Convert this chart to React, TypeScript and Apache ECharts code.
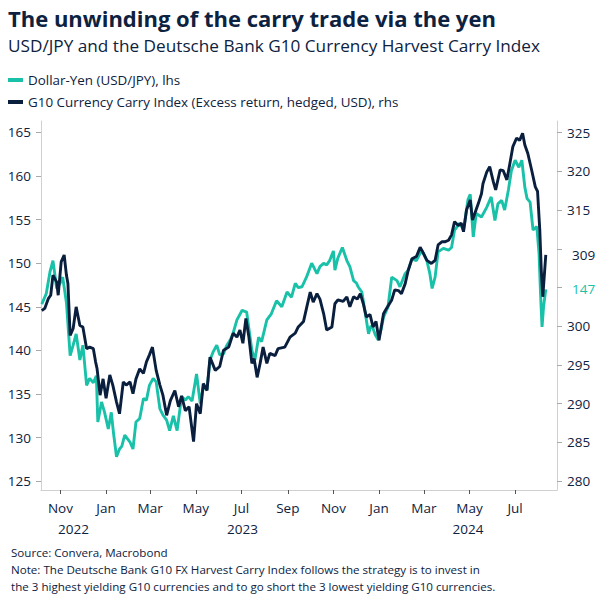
import React, { useEffect, useRef } from 'react';
import * as echarts from 'echarts';

// Dollar-Yen (USD/JPY), left axis
const usdJpyDates = [
  '2022-10-07', '2022-10-13', '2022-10-18', '2022-10-22', '2022-10-27', '2022-11-01', '2022-11-04', '2022-11-09', '2022-11-14', '2022-11-18',
  '2022-11-22', '2022-11-27', '2022-12-01', '2022-12-06', '2022-12-10', '2022-12-15', '2022-12-19', '2022-12-21', '2022-12-26', '2022-12-30',
  '2023-01-04', '2023-01-08', '2023-01-11', '2023-01-15', '2023-01-19', '2023-01-22', '2023-01-26', '2023-02-02', '2023-02-06', '2023-02-10',
  '2023-02-15', '2023-02-20', '2023-02-24', '2023-02-28', '2023-03-05', '2023-03-09', '2023-03-14', '2023-03-18', '2023-03-23', '2023-03-27',
  '2023-04-01', '2023-04-06', '2023-04-12', '2023-04-17', '2023-04-21', '2023-04-26', '2023-05-02', '2023-05-07', '2023-05-11', '2023-05-16',
  '2023-05-20', '2023-05-24', '2023-05-29', '2023-06-02', '2023-06-07', '2023-06-11', '2023-06-16', '2023-06-20', '2023-06-25', '2023-07-02',
  '2023-07-08', '2023-07-11', '2023-07-15', '2023-07-19', '2023-07-24', '2023-07-28', '2023-08-04', '2023-08-10', '2023-08-17', '2023-08-24',
  '2023-08-31', '2023-09-06', '2023-09-11', '2023-09-15', '2023-09-20', '2023-09-26', '2023-10-03', '2023-10-10', '2023-10-14', '2023-10-19',
  '2023-10-23', '2023-10-27', '2023-11-01', '2023-11-03', '2023-11-07', '2023-11-13', '2023-11-19', '2023-11-23', '2023-11-28', '2023-12-02',
  '2023-12-04', '2023-12-09', '2023-12-13', '2023-12-18', '2023-12-21', '2023-12-24', '2023-12-27', '2023-12-31', '2024-01-04', '2024-01-07',
  '2024-01-13', '2024-01-18', '2024-01-25', '2024-01-29', '2024-02-05', '2024-02-09', '2024-02-14', '2024-02-20', '2024-02-27', '2024-03-05',
  '2024-03-09', '2024-03-12', '2024-03-16', '2024-03-20', '2024-03-27', '2024-04-03', '2024-04-07', '2024-04-11', '2024-04-18', '2024-04-23',
  '2024-04-29', '2024-05-02', '2024-05-06', '2024-05-10', '2024-05-17', '2024-05-24', '2024-05-30', '2024-06-04', '2024-06-08', '2024-06-13',
  '2024-06-17', '2024-06-22', '2024-06-26', '2024-07-01', '2024-07-06', '2024-07-10', '2024-07-14', '2024-07-17', '2024-07-21', '2024-07-25',
  '2024-07-30', '2024-08-02', '2024-08-04', '2024-08-06', '2024-08-08', '2024-08-11',
];
const usdJpy = [
  145.3, 146.5, 149.0, 150.3, 147.1, 147.8, 148.4, 145.5, 139.4, 140.6,
  141.9, 138.9, 140.6, 136.0, 136.8, 136.3, 137.1, 131.8, 134.1, 132.9,
  131.0, 132.9, 130.5, 127.8, 128.7, 129.0, 130.3, 129.5, 128.7, 131.8,
  132.2, 134.5, 134.3, 136.0, 136.8, 136.4, 133.3, 132.6, 132.0, 130.8,
  132.5, 130.8, 134.7, 134.3, 134.7, 134.2, 137.3, 133.9, 135.8, 135.5,
  138.9, 139.8, 140.6, 139.5, 139.6, 140.5, 141.2, 142.0, 143.5, 144.6,
  144.4, 142.5, 140.0, 138.9, 141.5, 141.0, 143.5, 144.2, 145.7, 145.0,
  146.7, 146.1, 147.7, 147.2, 147.3, 148.4, 150.0, 148.8, 149.6, 150.0,
  149.8, 150.3, 151.4, 149.2, 150.6, 151.8, 150.3, 149.6, 148.0, 147.7,
  147.3, 146.7, 144.6, 141.9, 142.8, 142.5, 141.8, 141.2, 142.5, 143.8,
  145.0, 148.4, 148.0, 147.3, 148.8, 149.2, 150.5, 150.3, 151.5, 150.3,
  148.8, 147.1, 148.4, 151.3, 151.7, 151.5, 151.8, 153.8, 154.6, 153.8,
  157.3, 157.9, 153.0, 155.7, 155.3, 156.4, 157.6, 154.9, 156.8, 157.2,
  156.1, 158.4, 160.6, 161.8, 161.0, 161.8, 158.7, 157.4, 157.0, 153.8,
  154.2, 151.1, 146.5, 142.7, 145.0, 147.0,
];

// G10 Currency Carry Index, right axis
const carryDates = [
  '2022-10-07', '2022-10-11', '2022-10-16', '2022-10-19', '2022-10-22', '2022-10-27', '2022-10-29', '2022-11-02', '2022-11-06', '2022-11-09',
  '2022-11-11', '2022-11-14', '2022-11-18', '2022-11-22', '2022-11-27', '2022-12-01', '2022-12-06', '2022-12-10', '2022-12-15', '2022-12-18',
  '2022-12-20', '2022-12-24', '2022-12-28', '2023-01-01', '2023-01-06', '2023-01-10', '2023-01-15', '2023-01-19', '2023-01-24', '2023-01-28',
  '2023-02-02', '2023-02-06', '2023-02-10', '2023-02-15', '2023-02-20', '2023-02-24', '2023-02-28', '2023-03-04', '2023-03-09', '2023-03-14',
  '2023-03-18', '2023-03-23', '2023-03-28', '2023-04-03', '2023-04-08', '2023-04-12', '2023-04-17', '2023-04-22', '2023-04-28', '2023-05-02',
  '2023-05-07', '2023-05-11', '2023-05-16', '2023-05-20', '2023-05-27', '2023-06-02', '2023-06-07', '2023-06-14', '2023-06-20', '2023-06-25',
  '2023-06-29', '2023-07-03', '2023-07-07', '2023-07-11', '2023-07-15', '2023-07-18', '2023-07-22', '2023-07-26', '2023-07-30', '2023-08-04',
  '2023-08-08', '2023-08-15', '2023-08-19', '2023-08-28', '2023-09-04', '2023-09-11', '2023-09-15', '2023-09-22', '2023-09-26', '2023-10-01',
  '2023-10-05', '2023-10-10', '2023-10-14', '2023-10-19', '2023-10-23', '2023-10-30', '2023-11-03', '2023-11-07', '2023-11-14', '2023-11-19',
  '2023-11-23', '2023-11-28', '2023-12-03', '2023-12-07', '2023-12-11', '2023-12-15', '2023-12-20', '2023-12-24', '2023-12-28', '2024-01-01',
  '2024-01-07', '2024-01-11', '2024-01-18', '2024-01-22', '2024-01-27', '2024-01-31', '2024-02-05', '2024-02-09', '2024-02-14', '2024-02-20',
  '2024-02-25', '2024-02-29', '2024-03-05', '2024-03-11', '2024-03-16', '2024-03-20', '2024-03-25', '2024-03-29', '2024-04-03', '2024-04-07',
  '2024-04-11', '2024-04-16', '2024-04-20', '2024-04-23', '2024-04-27', '2024-05-02', '2024-05-05', '2024-05-09', '2024-05-13', '2024-05-17',
  '2024-05-19', '2024-05-24', '2024-05-28', '2024-06-02', '2024-06-05', '2024-06-11', '2024-06-15', '2024-06-20', '2024-06-24', '2024-06-28',
  '2024-07-03', '2024-07-07', '2024-07-11', '2024-07-14', '2024-07-18', '2024-07-23', '2024-07-28', '2024-07-31', '2024-08-03', '2024-08-05',
  '2024-08-07', '2024-08-11',
];
const carryIndex = [
  302.0, 302.3, 303.6, 304.0, 306.6, 305.7, 304.0, 308.3, 309.2, 306.6,
  305.5, 298.8, 299.7, 302.5, 300.1, 299.9, 297.1, 297.3, 297.1, 295.4,
  294.5, 291.1, 293.2, 290.7, 293.7, 292.4, 290.2, 288.7, 292.8, 292.4,
  292.8, 291.3, 293.2, 294.5, 293.9, 295.4, 296.3, 297.3, 294.3, 292.4,
  291.1, 288.5, 290.4, 291.7, 289.6, 291.0, 289.1, 289.6, 285.1, 290.0,
  288.7, 292.6, 291.7, 296.0, 294.3, 294.8, 296.9, 297.3, 299.1, 298.6,
  299.5, 297.8, 301.0, 298.6, 295.2, 295.8, 293.4, 295.2, 297.3, 295.2,
  296.5, 296.2, 297.1, 297.3, 298.6, 299.1, 299.9, 300.6, 302.3, 304.4,
  303.1, 304.2, 303.5, 301.6, 299.5, 299.9, 302.9, 303.4, 303.2, 303.8,
  302.5, 303.8, 303.5, 304.2, 302.9, 301.2, 301.5, 299.9, 300.6, 298.2,
  301.6, 302.3, 303.4, 304.7, 304.6, 304.2, 305.5, 307.2, 308.7, 309.0,
  310.2, 309.5, 308.5, 308.1, 308.5, 310.5, 310.9, 310.9, 311.1, 311.8,
  313.5, 313.0, 313.3, 312.2, 315.0, 316.3, 313.7, 314.8, 315.9, 317.1,
  318.4, 319.9, 320.6, 318.6, 317.6, 320.2, 320.1, 318.9, 321.0, 323.2,
  324.3, 324.0, 324.9, 323.4, 322.3, 320.2, 318.0, 317.4, 312.4, 307.2,
  303.8, 309.2,
];

const monthTicks = [
  '2022-11-01', '2023-01-01', '2023-03-01', '2023-05-01', '2023-07-01', '2023-09-01',
  '2023-11-01', '2024-01-01', '2024-03-01', '2024-05-01', '2024-07-01',
];
const years = [2022, 2023, 2024];
const leftTicks = [125, 130, 135, 140, 145, 150, 155, 160, 165];
const rightTicks = [280, 285, 290, 295, 300, 305, 310, 315, 320, 325];
const rightLabels = [280, 285, 290, 295, 300, 315, 320, 325];
const monthNames = ['Jan', 'Feb', 'Mar', 'Apr', 'May', 'Jun', 'Jul', 'Aug', 'Sep', 'Oct', 'Nov', 'Dec'];

const seriesNames = ['Dollar-Yen (USD/JPY), lhs', 'G10 Currency Carry Index (Excess return, hedged, USD), rhs'];
const titleText = 'The unwinding of the carry trade via the yen';
const subtitleText = 'USD/JPY and the Deutsche Bank G10 Currency Harvest Carry Index';
const footText = [
  'Source: Convera, Macrobond',
  'Note: The Deutsche Bank G10 FX Harvest Carry Index follows the strategy is to invest in',
  'the 3 highest yielding G10 currencies and to go short the 3 lowest yielding G10 currencies.',
];

const TEAL = '#19C1A9';
const NAVY = '#0A1F3D';
const TEXT = '#0D2240';
const AXIS = '#D0D0D0';
const FONT = "'Open Sans', 'Noto Sans', sans-serif";

const X_MIN = '2022-10-06';
const X_MAX = '2024-08-26';

function ts(s: string): number {
  const [y, m, d] = s.split('-').map(Number);
  return Date.UTC(y, m - 1, d);
}

export default function App() {
  const ref = useRef<HTMLDivElement>(null);

  useEffect(() => {
    document.body.style.margin = '0';
    if (!ref.current) return;
    const chart = echarts.init(ref.current, undefined, { renderer: 'svg' });

    const xMin = ts(X_MIN);
    const xMax = ts(X_MAX);
    const yearMids = years.map((y) => {
      const s = Math.max(xMin, Date.UTC(y, 0, 1));
      const e = Math.min(xMax, Date.UTC(y + 1, 0, 1));
      return (s + e) / 2;
    });
    const monthVals = monthTicks.map(ts);

    const option: any = {
      animation: false,
      title: [
        {
          text: titleText, left: 8, top: 7, padding: 0,
          textStyle: { fontFamily: FONT, fontSize: 22, fontWeight: 'bold', color: TEXT },
        },
        {
          text: subtitleText, left: 8, top: 37, padding: 0,
          textStyle: { fontFamily: FONT, fontSize: 17.2, fontWeight: 'normal', color: TEXT },
        },
        {
          text: footText.join('\n'), left: 11, top: 544, padding: 0,
          textStyle: { fontFamily: FONT, fontSize: 11.6, fontWeight: 'normal', color: TEXT, lineHeight: 17 },
        },
      ],
      legend: {
        orient: 'vertical', left: 8, top: 72, padding: 0,
        icon: 'rect', itemWidth: 15, itemHeight: 4, itemGap: 6,
        textStyle: { fontFamily: FONT, fontSize: 13.4, color: TEXT, lineHeight: 16 },
        data: seriesNames,
      },
      grid: { left: 41, right: 47, top: 121, bottom: 114, outerBoundsMode: 'none' },
      xAxis: [
        {
          type: 'value', min: xMin, max: xMax,
          axisLine: { show: true, lineStyle: { color: AXIS, width: 1 } },
          axisTick: { show: true, length: 4, lineStyle: { color: '#555' }, customValues: monthVals },
          axisLabel: {
            customValues: monthVals, margin: 11,
            fontFamily: FONT, fontSize: 13.5, color: TEXT,
            formatter: (v: number) => monthNames[new Date(v).getUTCMonth()],
          },
          splitLine: { show: false },
        },
        {
          type: 'value', min: xMin, max: xMax, position: 'bottom', offset: 21,
          axisLine: { show: false }, axisTick: { show: false },
          axisLabel: {
            customValues: yearMids, margin: 11,
            fontFamily: FONT, fontSize: 13.5, color: TEXT,
            formatter: (v: number) => String(new Date(v).getUTCFullYear()),
          },
          splitLine: { show: false },
        },
      ],
      yAxis: [
        {
          type: 'value', position: 'left', min: 124, max: 166.3,
          axisLine: { show: true, lineStyle: { color: AXIS } },
          axisTick: { show: true, length: 5, lineStyle: { color: '#AAA' }, customValues: leftTicks },
          axisLabel: { customValues: leftTicks, margin: 10, fontFamily: FONT, fontSize: 13.5, color: TEXT },
          splitLine: { show: false },
        },
        {
          type: 'value', position: 'right', min: 278.85, max: 326.5,
          axisLine: { show: true, lineStyle: { color: AXIS } },
          axisTick: { show: true, length: 5, lineStyle: { color: '#AAA' }, customValues: rightTicks },
          axisLabel: { customValues: rightLabels, margin: 10, fontFamily: FONT, fontSize: 13.5, color: TEXT },
          splitLine: { show: false },
        },
      ],
      series: [
        {
          name: seriesNames[0], type: 'line', xAxisIndex: 0, yAxisIndex: 0, showSymbol: false,
          color: TEAL, lineStyle: { color: TEAL, width: 2.9 },
          data: usdJpyDates.map((d, i) => [ts(d), usdJpy[i]]),
        },
        {
          name: seriesNames[1], type: 'line', xAxisIndex: 0, yAxisIndex: 1, showSymbol: false,
          color: NAVY, lineStyle: { color: NAVY, width: 2.9 },
          data: carryDates.map((d, i) => [ts(d), carryIndex[i]]),
        },
      ],
    };
    chart.setOption(option);

    const lastTeal = usdJpy[usdJpy.length - 1];
    const lastNavy = carryIndex[carryIndex.length - 1];
    const axisX = chart.convertToPixel({ xAxisIndex: 0 }, xMax) as number;
    const yTeal = chart.convertToPixel({ yAxisIndex: 0 }, lastTeal) as number;
    const yNavy = chart.convertToPixel({ yAxisIndex: 1 }, lastNavy) as number;
    chart.setOption({
      graphic: [
        {
          type: 'text', x: axisX + 15, y: yNavy,
          style: { text: String(Math.round(lastNavy)), fill: TEXT, font: `13.5px ${FONT}`, verticalAlign: 'middle', align: 'left' },
        },
        {
          type: 'text', x: axisX + 15, y: yTeal,
          style: { text: String(Math.round(lastTeal)), fill: TEAL, font: `13.5px ${FONT}`, verticalAlign: 'middle', align: 'left' },
        },
      ],
    });

    return () => chart.dispose();
  }, []);

  return <div ref={ref} style={{ width: 604, height: 604 }} />;
}
